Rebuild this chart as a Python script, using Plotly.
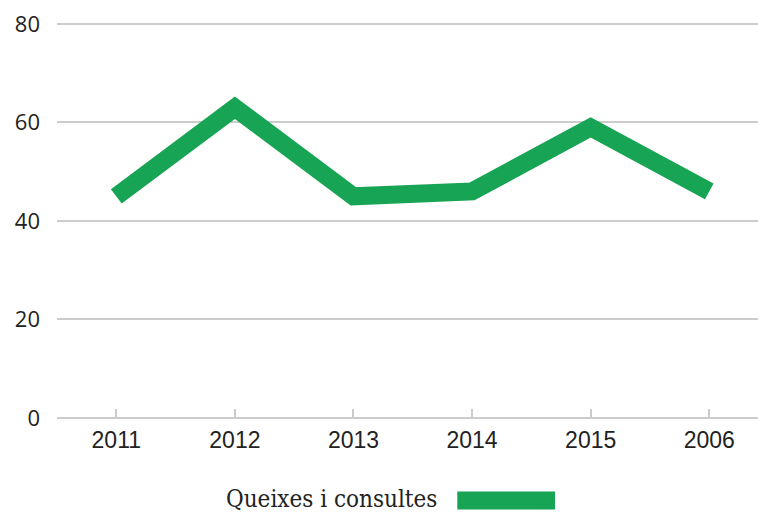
import plotly.graph_objects as go

years = ["2011", "2012", "2013", "2014", "2015", "2006"]
values = [45, 63, 45, 46, 59, 46]
series_name = "Queixes i consultes"
y_ticks = [0, 20, 40, 60, 80]

green = "#17a454"

fig = go.Figure()
fig.add_trace(go.Scatter(
    x=years, y=values, mode="lines", name=series_name,
    line=dict(color=green, width=18), showlegend=False, hoverinfo="x+y",
))

fig.update_layout(
    width=758, height=514,
    margin=dict(l=57, r=0, t=22.03, b=95.5, pad=0),
    paper_bgcolor="white", plot_bgcolor="white",
    xaxis=dict(
        type="category", range=[-0.5, 5.411],
        showgrid=False, zeroline=False, showline=False,
        ticks="inside", ticklen=9, tickwidth=1.5, tickcolor="#cccccc",
        tickfont=dict(family="Liberation Sans, sans-serif", size=23, color="#222222"),
        ticklabelstandoff=6,
    ),
    yaxis=dict(
        range=[0, 80.4], tickvals=y_ticks, showgrid=True, gridcolor="#cccccc", gridwidth=1.5,
        zeroline=True, zerolinecolor="#cccccc", zerolinewidth=1.5, showline=False,
        ticks="", tickfont=dict(family="Open Sans, sans-serif", size=22, color="#222222"),
        ticklabelstandoff=16,
    ),
    annotations=[dict(
        xref="paper", yref="paper", x=0.5450, y=-0.2043, xanchor="right", yanchor="middle",
        text=series_name, showarrow=False,
        font=dict(family="DejaVu Serif Condensed, Liberation Serif, serif", size=24, color="#222222"),
    )],
    shapes=[dict(
        type="rect", xref="paper", yref="paper",
        x0=0.5710, x1=0.7104, y0=-0.1854, y1=-0.2308,
        fillcolor=green, line=dict(width=0),
    )],
)

fig.write_html(
    "out.html",
    config={"displayModeBar": False},
    post_script="document.body.style.margin='0';document.body.style.overflow='hidden';",
)
